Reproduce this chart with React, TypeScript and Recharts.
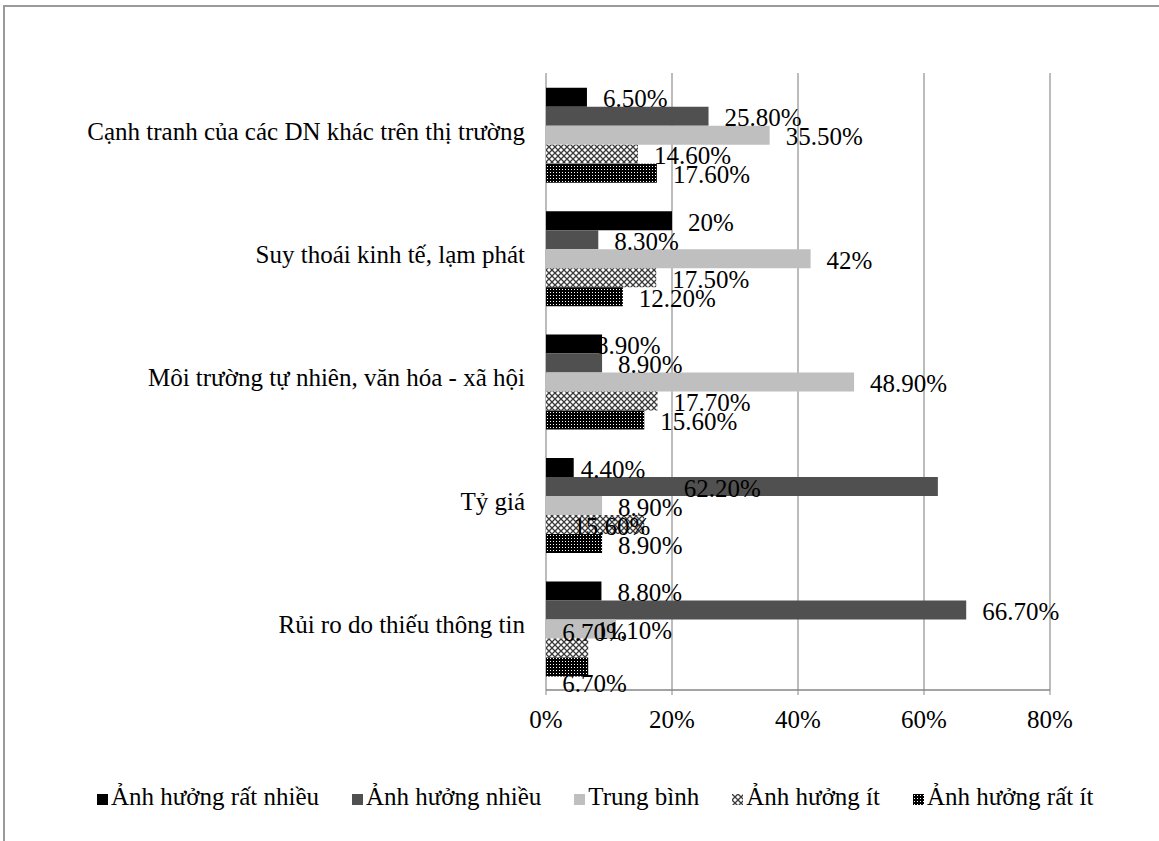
import { BarChart, Bar, XAxis, YAxis, CartesianGrid, LabelList } from "recharts";

const FONT = '"Liberation Serif", "Times New Roman", serif';

const CATEGORIES = [
  "Cạnh tranh của các DN khác trên thị trường",
  "Suy thoái kinh tế, lạm phát",
  "Môi trường tự nhiên, văn hóa - xã hội",
  "Tỷ giá",
  "Rủi ro do thiếu thông tin",
];

const RAT_NHIEU = [6.5, 20, 8.9, 4.4, 8.8];
const NHIEU = [25.8, 8.3, 8.9, 62.2, 66.7];
const TRUNG_BINH = [35.5, 42, 48.9, 8.9, 11.1];
const IT = [14.6, 17.5, 17.7, 15.6, 6.7];
const RAT_IT = [17.6, 12.2, 15.6, 8.9, 6.7];

const SERIES_KEYS = ["ratNhieu", "nhieu", "trungBinh", "it", "ratIt"];
const SERIES_NAMES = [
  "Ảnh hưởng rất nhiều",
  "Ảnh hưởng nhiều",
  "Trung bình",
  "Ảnh hưởng ít",
  "Ảnh hưởng rất ít",
];
const SERIES_VALUES = [RAT_NHIEU, NHIEU, TRUNG_BINH, IT, RAT_IT];

const X_TICKS = [0, 20, 40, 60, 80];
const EDGE_TICKS = [0, 1, 2, 3, 4, 5];

const FILLS: Record<string, string> = {
  ratNhieu: "#000000",
  nhieu: "#505050",
  trungBinh: "#bfbfbf",
  it: "url(#patIt)",
  ratIt: "url(#patRatIt)",
};

// labels that Excel shoved around (dx, dy from the usual spot right of the bar)
const LABEL_NUDGE: Record<string, [number, number]> = {
  "ratNhieu:2": [-22, 0],
  "ratNhieu:3": [-9, 0],
  "nhieu:3": [-270, 0],
  "it:3": [-87, 0],
  "trungBinh:4": [-36, 0],
  "it:4": [-42, -17],
  "ratIt:4": [-42, 15],
};

const data = CATEGORIES.map((name, i) => {
  const row: Record<string, string | number> = { name };
  SERIES_KEYS.forEach((k, s) => {
    row[k] = SERIES_VALUES[s][i];
  });
  return row;
});

function fmt(v: number) {
  return Number.isInteger(v) ? `${v}%` : `${v.toFixed(2)}%`;
}

const AXIS_GREY = "#868686";

function makeLabel(key: string) {
  return (props: any) => {
    const vb = props.viewBox ?? props;
    const x = Number(vb.x ?? props.x);
    const y = Number(vb.y ?? props.y);
    const w = Number(vb.width ?? props.width);
    const h = Number(vb.height ?? props.height);
    const nudge = LABEL_NUDGE[`${key}:${props.index}`] ?? [0, 0];
    return (
      <text
        x={x + w + 16 + nudge[0]}
        y={y + h / 2 + 1.5 + nudge[1]}
        dominantBaseline="central"
        fontSize={25}
        fontFamily={FONT}
        fill="#000"
      >
        {fmt(Number(props.value))}
      </text>
    );
  };
}

export default function App() {
  return (
    <div
      style={{
        position: "absolute",
        left: 0,
        top: 0,
        width: 1159,
        height: 841,
        background: "#fff",
        fontFamily: FONT,
        overflow: "hidden",
      }}
    >
      {/* chart frame */}
      <div
        style={{
          position: "absolute",
          left: 3,
          top: 5,
          width: 1156,
          height: 836,
          borderTop: "2px solid #9a9a9a",
          borderLeft: "2px solid #9a9a9a",
          boxSizing: "border-box",
        }}
      />
      <div style={{ position: "absolute", left: 0, top: 0 }}>
        <BarChart
          width={1159}
          height={841}
          data={data}
          layout="vertical"
          margin={{ top: 73, right: 109, bottom: 111, left: 0 }}
          barCategoryGap="12%"
          barGap={0}
        >
          <defs>
            <pattern id="patIt" width="6" height="6" patternUnits="userSpaceOnUse">
              <rect width="6" height="6" fill="#ffffff" />
              <path d="M0,0 L6,6 M6,0 L0,6" stroke="#3a3a3a" strokeWidth="1.3" />
            </pattern>
            <pattern id="patRatIt" width="3" height="3" patternUnits="userSpaceOnUse">
              <rect width="3" height="3" fill="#000000" />
              <rect x="1" y="1" width="1" height="1" fill="#ffffff" />
            </pattern>
          </defs>
          <CartesianGrid
            horizontal={false}
            yAxisId="cat"
            stroke="#a6a6a6"
            strokeWidth={1.5}
          />
          {/* boundary ticks between categories, like Excel */}
          <YAxis
            yAxisId="edge"
            type="number"
            domain={[0, 5]}
            ticks={EDGE_TICKS}
            width={0}
            tick={false}
            tickSize={5}
            tickLine={{ stroke: AXIS_GREY }}
            axisLine={{ stroke: AXIS_GREY, strokeWidth: 1.5 }}
          />
          <YAxis
            yAxisId="cat"
            type="category"
            dataKey="name"
            width={546}
            tickLine={false}
            axisLine={false}
            tickSize={0}
            tickMargin={21}
            tick={{ fontSize: 25, fill: "#000", fontFamily: FONT, dy: -4 }}
            interval={0}
          />
          <XAxis
            type="number"
            domain={[0, 80]}
            ticks={X_TICKS}
            tickFormatter={(v: number) => `${v}%`}
            height={40}
            tickSize={5}
            tickMargin={15}
            axisLine={{ stroke: AXIS_GREY, strokeWidth: 1.5 }}
            tickLine={{ stroke: AXIS_GREY }}
            tick={{ fontSize: 25, fill: "#000", fontFamily: FONT }}
          />
          {SERIES_KEYS.map((k, s) => (
            <Bar
              key={k}
              yAxisId="cat"
              dataKey={k}
              name={SERIES_NAMES[s]}
              fill={FILLS[k]}
              isAnimationActive={false}
            >
              <LabelList dataKey={k} content={makeLabel(k)} />
            </Bar>
          ))}
        </BarChart>
      </div>
      {/* legend */}
      <div
        style={{
          position: "absolute",
          left: 97,
          top: 782,
          display: "flex",
          alignItems: "center",
          fontSize: 25,
          lineHeight: "30px",
          color: "#000",
          whiteSpace: "nowrap",
        }}
      >
        {SERIES_KEYS.map((k, s) => (
          <div
            key={k}
            style={{ display: "flex", alignItems: "center", marginRight: 33 }}
          >
            <svg width={11} height={11} style={{ marginRight: 3, marginTop: 4 }}>
              <rect width={11} height={11} fill={FILLS[k]} />
            </svg>
            <span>{SERIES_NAMES[s]}</span>
          </div>
        ))}
      </div>
    </div>
  );
}
